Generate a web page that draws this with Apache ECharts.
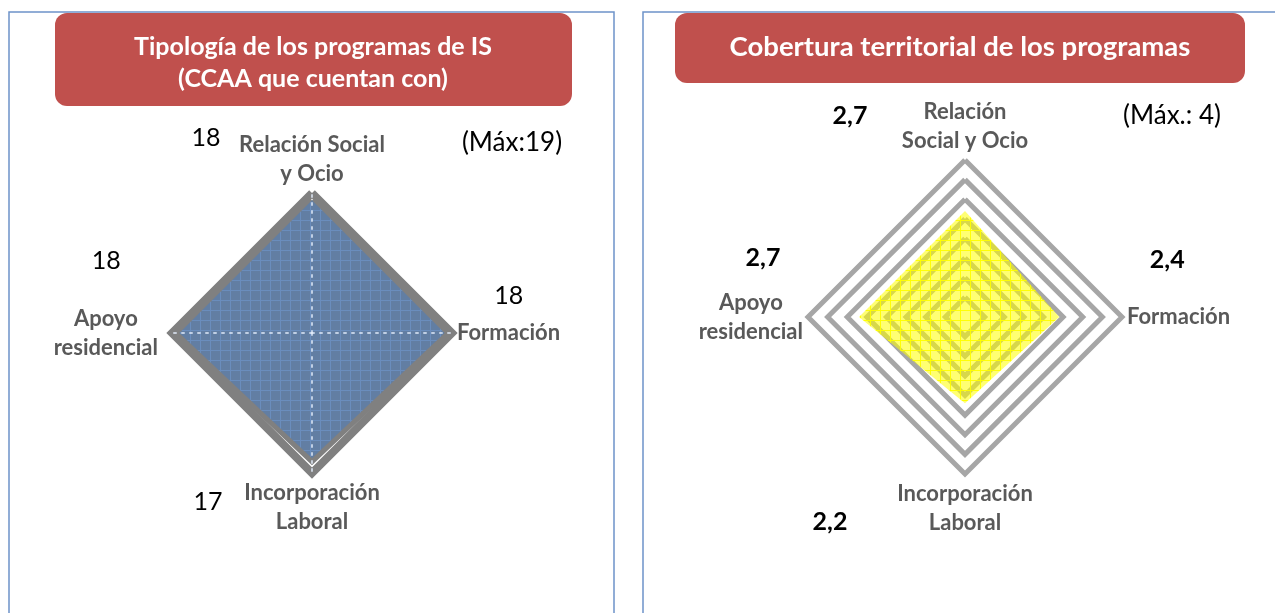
<!DOCTYPE html>
<html><head><meta charset="utf-8">
<script src="https://cdn.jsdelivr.net/npm/echarts@6/dist/echarts.min.js"></script>
<style>html,body{margin:0;padding:0;background:#fff}#c{width:1275px;height:613px}</style>
</head><body><div id="c"></div>
<script>
// ---------- data ----------
const leftTitleLines = ['Tipología de los programas de IS', '(CCAA que cuentan con)'];
const leftCategories = ['Relación Social\ny Ocio', 'Apoyo\nresidencial', 'Incorporación\nLaboral', 'Formación'];
const leftValues = [18, 18, 17, 18];
const leftMax = 19;
const leftMaxNote = '(Máx:19)';

const rightTitle = 'Cobertura territorial de los programas';
const rightCategories = ['Relación\nSocial y Ocio', 'Apoyo\nresidencial', 'Incorporación\nLaboral', 'Formación'];
const rightValues = [2.7, 2.7, 2.2, 2.4];
const rightMax = 4;
const rightInterval = 0.5;
const rightMaxNote = '(Máx.: 4)';

// ---------- layout (label offsets relative to each vertex) ----------
const leftLabelOffsets = [[-106, -62], [-73, -72], [-104, 44], [64, -37]];
const rightLabelOffsets = [[-115, -95], [-96, -59], [-135, 119], [108, -57]];

function gridPattern(base, line, size) {
  const c = document.createElement('canvas');
  c.width = c.height = size;
  const ctx = c.getContext('2d');
  ctx.fillStyle = base; ctx.fillRect(0, 0, size, size);
  ctx.fillStyle = line; ctx.fillRect(0, 0, size, 1); ctx.fillRect(0, 0, 1, size);
  return c;
}
const bluePat = gridPattern('#627EA3', '#6A8DBD', 10);
const yellowPat = gridPattern('rgba(255,255,0,0.55)', 'rgba(255,255,0,0.95)', 10);

const FONT = 'Lato, "Open Sans", sans-serif';
const fmtComma = v => v.toFixed(1).replace('.', ',');
const NAME_SIZE = 22;

function nameStyle(extraRich) {
  return {
    color: '#595959', fontFamily: FONT, fontWeight: 'bold', fontSize: NAME_SIZE, lineHeight: 29,
    rich: Object.assign({
      n: { color: '#595959', fontFamily: FONT, fontWeight: 'bold', fontSize: NAME_SIZE, lineHeight: 29, align: 'center' }
    }, extraRich || {})
  };
}

function labelSeries(radarIndex, values, offsets, fmt, bold) {
  return {
    type: 'radar', radarIndex: radarIndex, silent: true, z: 5,
    symbol: 'circle', symbolSize: 1,
    itemStyle: { color: 'rgba(0,0,0,0)' },
    lineStyle: { opacity: 0, width: 0 },
    data: values.map((v, i) => ({
      value: values.map((w, j) => j === i ? w : '-'),
      label: {
        show: true, position: 'inside', offset: offsets[i],
        color: '#000', fontFamily: FONT, fontSize: 25, fontWeight: bold ? 'bold' : 'normal',
        formatter: p => (typeof p.value === 'number' && isFinite(p.value)) ? fmt(p.value) : ''
      }
    }))
  };
}

const chart = echarts.init(document.getElementById('c'), null, { renderer: 'canvas' });
chart.setOption({
  animation: false,
  backgroundColor: '#fff',
  graphic: [
    { type: 'rect', z: -10, shape: { x: 9, y: 12, width: 605, height: 640 }, style: { fill: '#fff', stroke: '#6D93C9', lineWidth: 1.5 } },
    { type: 'rect', z: -10, shape: { x: 643, y: 12, width: 700, height: 640 }, style: { fill: '#fff', stroke: '#6D93C9', lineWidth: 1.5 } },
    { type: 'rect', z: -5, shape: { x: 55, y: 13, width: 517, height: 93, r: 12 }, style: { fill: '#C0504D' } },
    { type: 'rect', z: -5, shape: { x: 675, y: 13, width: 570, height: 70, r: 12 }, style: { fill: '#C0504D' } },
    { type: 'text', z: 10, style: { text: leftTitleLines[0], x: 313, y: 47, align: 'center', verticalAlign: 'middle', fill: '#fff', fontFamily: FONT, fontWeight: 'bold', fontSize: 25 } },
    { type: 'text', z: 10, style: { text: leftTitleLines[1], x: 313, y: 79, align: 'center', verticalAlign: 'middle', fill: '#fff', fontFamily: FONT, fontWeight: 'bold', fontSize: 25 } },
    { type: 'text', z: 10, style: { text: rightTitle, x: 960, y: 47, align: 'center', verticalAlign: 'middle', fill: '#fff', fontFamily: FONT, fontWeight: 'bold', fontSize: 27.5 } },
    { type: 'text', z: 10, style: { text: leftMaxNote, x: 512, y: 143, align: 'center', verticalAlign: 'middle', fill: '#000', fontFamily: FONT, fontSize: 26 } },
    { type: 'text', z: 10, style: { text: rightMaxNote, x: 1172, y: 116, align: 'center', verticalAlign: 'middle', fill: '#000', fontFamily: FONT, fontSize: 26 } }
  ],
  radar: [
    {
      z: 3,
      center: [312, 333], radius: 140, startAngle: 90, shape: 'polygon', splitNumber: 1,
      indicator: leftCategories.map(c => ({ name: c, max: leftMax, min: 0 })),
      nameGap: 5,
      axisName: Object.assign(nameStyle({
        p: { color: '#595959', fontFamily: FONT, fontWeight: 'bold', fontSize: NAME_SIZE, lineHeight: 29, align: 'center', padding: [0, 9, 0, 0] }
      }), { formatter: name => (name.indexOf('Apoyo') === 0 ? '{p|' : '{n|') + name + '}' }),
      axisLine: { show: true, lineStyle: { color: 'rgba(225,235,250,0.75)', type: [2, 6], width: 2 } },
      splitLine: { show: true, lineStyle: { color: '#808080', width: 8 } },
      splitArea: { show: false },
      axisTick: { show: false }, axisLabel: { show: false }
    },
    {
      center: [965, 317], radius: 157, startAngle: 90, shape: 'polygon', splitNumber: rightMax / rightInterval,
      indicator: rightCategories.map(c => ({ name: c, max: rightMax, min: 0 })),
      nameGap: 5,
      axisName: Object.assign(nameStyle(), { formatter: name => '{n|' + name + '}' }),
      axisLine: { show: false },
      splitLine: { show: true, lineStyle: { color: '#A6A6A6', width: 5 } },
      splitArea: { show: false },
      axisTick: { show: false }, axisLabel: { show: false }
    }
  ],
  series: [
    {
      type: 'radar', radarIndex: 0, symbol: 'none', silent: true,
      lineStyle: { width: 10, color: '#808080', join: 'miter' },
      areaStyle: { color: { image: bluePat, repeat: 'repeat' }, opacity: 1 },
      data: [{ value: leftValues }]
    },
    {
      type: 'radar', radarIndex: 1, symbol: 'none', silent: true,
      lineStyle: { width: 0, color: 'rgba(0,0,0,0)' },
      areaStyle: { color: { image: yellowPat, repeat: 'repeat' }, opacity: 1 },
      data: [{ value: rightValues }]
    },
    labelSeries(0, leftValues, leftLabelOffsets, v => String(v), false),
    labelSeries(1, rightValues, rightLabelOffsets, fmtComma, true)
  ]
});
</script>
</body></html>
